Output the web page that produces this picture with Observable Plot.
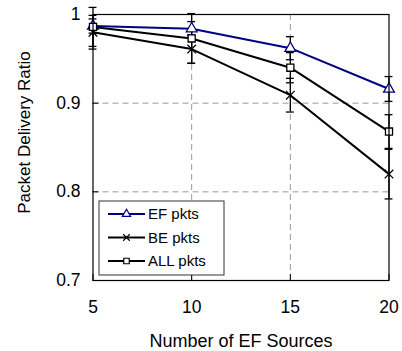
<!DOCTYPE html>
<html>
<head>
<meta charset="utf-8">
<script src="https://cdn.jsdelivr.net/npm/d3@7"></script>
<script src="https://cdn.jsdelivr.net/npm/@observablehq/plot@0.6"></script>
<style>
  html, body { margin: 0; padding: 0; background: white; }
  #chart { width: 402px; height: 351px; }
</style>
</head>
<body>
<div id="chart"></div>
<script>
const sources = [5, 10, 15, 20];
const seriesNames = ["EF pkts", "BE pkts", "ALL pkts"];
const seriesColors = ["#000080", "black", "black"];
const seriesSymbols = ["triangle", "times", "square"];
const efValues = [0.987, 0.984, 0.962, 0.916];
const beValues = [0.980, 0.961, 0.909, 0.820];
const allValues = [0.986, 0.973, 0.940, 0.868];
const efErrors = [0.008, 0.008, 0.013, 0.014];
const beErrors = [0.019, 0.016, 0.019, 0.028];
const allErrors = [0.022, 0.028, 0.017, 0.019];
const yTicks = [0.7, 0.8, 0.9, 1];
const yGrid = [0.8, 0.9];
const xGrid = [10, 15];
const xTitle = "Number of EF Sources";
const yTitle = "Packet Delivery Ratio";

const valueSets = [efValues, beValues, allValues];
const errorSets = [efErrors, beErrors, allErrors];
const rows = [];
seriesNames.forEach((name, i) => {
  sources.forEach((x, j) => {
    rows.push({name, x, y: valueSets[i][j], e: errorSets[i][j]});
  });
});

const capHalf = 0.2;
const font = "'Liberation Sans', Arial, sans-serif";

const plot = Plot.plot({
  width: 402,
  height: 351,
  marginLeft: 92.5,
  marginRight: 13.5,
  marginTop: 14,
  marginBottom: 71,
  style: {fontFamily: font, background: "white", overflow: "visible"},
  x: {domain: [5, 20], label: null},
  y: {domain: [0.7, 1], label: null},
  color: {domain: seriesNames, range: seriesColors},
  symbol: {domain: seriesNames, range: seriesSymbols},
  marks: [
    Plot.ruleY(yGrid, {stroke: "#999", strokeDasharray: "6,4", strokeWidth: 1}),
    Plot.ruleX(xGrid, {stroke: "#999", strokeDasharray: "6,4", strokeWidth: 1}),
    Plot.ruleX(rows, {x: "x", y1: d => d.y - d.e, y2: d => d.y + d.e, stroke: "black", strokeWidth: 1.3}),
    Plot.ruleY(rows, {y: d => d.y - d.e, x1: d => d.x - capHalf, x2: d => d.x + capHalf, stroke: "black", strokeWidth: 1.3}),
    Plot.ruleY(rows, {y: d => d.y + d.e, x1: d => d.x - capHalf, x2: d => d.x + capHalf, stroke: "black", strokeWidth: 1.3}),
    Plot.line(rows, {x: "x", y: "y", z: "name", stroke: "name", strokeWidth: 2}),
    Plot.dot(rows, {x: "x", y: "y", symbol: "name", stroke: "name", fill: "white", r: 4, strokeWidth: 1.3}),
    Plot.frame({stroke: "black", strokeWidth: 1.2}),
    Plot.axisX({ticks: sources, tickSize: -6, tickFormat: () => "", stroke: "black", label: null}),
    Plot.axisX({ticks: sources, tickSize: 0, tickPadding: 20, fontSize: 17.5, fill: "black", tickFormat: d => String(d), label: null}),
    Plot.axisY({ticks: yTicks, tickSize: -6, tickFormat: () => "", stroke: "black", label: null}),
    Plot.axisY({ticks: yTicks, tickSize: 0, tickPadding: 12.5, fontSize: 17.5, fill: "black", tickFormat: d3.format("~g"), label: null}),
    Plot.text([xTitle], {text: d => d, frameAnchor: "bottom", lineAnchor: "top", dy: 54, fontSize: 18, fill: "black"})
  ]
});

document.getElementById("chart").appendChild(plot);

const svg = d3.select(plot);

// Y axis title
svg.append("text")
  .attr("transform", "translate(24,132.5) rotate(-90)")
  .attr("text-anchor", "middle").attr("dy", "0.35em")
  .attr("font-family", font).attr("font-size", 17).attr("fill", "black")
  .text(yTitle);

// Legend inside the plot area
const lg = svg.append("g").attr("font-family", font);
lg.append("rect").attr("x", 99).attr("y", 201).attr("width", 125).attr("height", 74)
  .attr("fill", "white").attr("stroke", "#333").attr("stroke-width", 1);
const symMap = {triangle: d3.symbolTriangle, times: d3.symbolTimes, square: d3.symbolSquare};
seriesNames.forEach((name, i) => {
  const cy = 214 + i * 23.5;
  const g = lg.append("g");
  g.append("line").attr("x1", 108).attr("x2", 145).attr("y1", cy).attr("y2", cy)
    .attr("stroke", seriesColors[i]).attr("stroke-width", 2);
  g.append("path").attr("transform", `translate(126.5,${cy})`)
    .attr("d", d3.symbol(symMap[seriesSymbols[i]], 30)())
    .attr("fill", "white").attr("stroke", seriesColors[i]).attr("stroke-width", 1.2);
  g.append("text").attr("x", 148).attr("y", cy).attr("dy", "0.35em")
    .attr("text-anchor", "start")
    .attr("font-size", 15).attr("fill", "black").text(name);
});
</script>
</body>
</html>
